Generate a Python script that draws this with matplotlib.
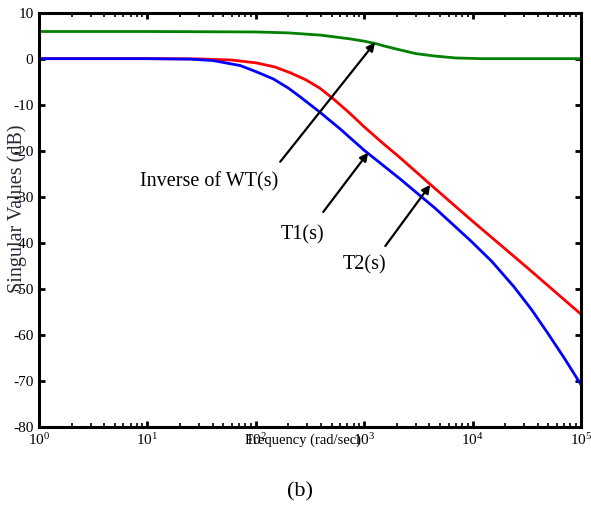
import numpy as np
import matplotlib
matplotlib.use("Agg")
import matplotlib.pyplot as plt

plt.rcParams['font.family'] = ['Liberation Serif', 'DejaVu Serif']
plt.rcParams['mathtext.fontset'] = 'stix'

# values (frequency in rad/sec, singular values in dB)
freq_wt = [1, 10, 100, 200, 400, 740, 1000, 1320, 1500, 2140, 3000, 4370, 7000, 12000, 100000]
inv_wt = [5.9, 5.9, 5.8, 5.6, 5.1, 4.3, 3.8, 3.2, 2.8, 1.9, 1.1, 0.6, 0.15, 0.0, 0.0]

freq_t1 = [1, 10, 30, 60, 100, 150, 210, 290, 390, 530, 740, 1000, 1410, 2140, 4070, 9550, 31600, 100000]
t1 = [0, 0, -0.05, -0.3, -0.9, -1.8, -3.1, -4.6, -6.4, -8.9, -11.9, -14.8, -17.9, -21.5, -27.3, -34.9, -45.3, -55.5]

freq_t2 = [1, 10, 25, 40, 72, 100, 145, 200, 257, 389, 603, 1000, 2140, 4570, 9550,
           15000, 24000, 35000, 49000, 70000, 100000]
t2 = [0, 0, -0.1, -0.4, -1.5, -2.8, -4.4, -6.4, -8.3, -11.6, -15.3, -19.9, -26.1, -32.6, -39.5,
      -44.0, -49.5, -54.5, -59.5, -65.0, -70.8]

yticks = [10, 0, -10, -20, -30, -40, -50, -60, -70, -80]
ytick_labels = ['10', '0', '-10', '-20', '-30', '-40', '-50', '-60', '-70', '-80']

fig = plt.figure(figsize=(5.91, 5.05), dpi=100)
ax = fig.add_axes([0.066, 0.1545, 0.917, 0.8205])

ax.semilogx(freq_wt, inv_wt, color='#008000', lw=2)
ax.semilogx(freq_t1, t1, color='#ff0000', lw=2)
ax.semilogx(freq_t2, t2, color='#0000ff', lw=2)

ax.set_xlim(1, 1e5)
ax.set_ylim(-80, 10)
ax.set_yticks(yticks)
ax.set_yticklabels(ytick_labels)

for s in ax.spines.values():
    s.set_linewidth(2.2)
ax.tick_params(which='major', direction='in', length=4, width=2, labelsize=11,
               top=True, right=True, pad=4)
ax.tick_params(which='minor', direction='in', length=3, width=1.2, top=True)
ax.tick_params(axis='y', which='minor', left=False, right=False)

ax.set_ylabel('Singular Values (dB)', fontsize=14.5, color='#2a2a3a')
ax.yaxis.set_label_coords(-0.022, 0.527)
ax.text(0.487, -0.031, 'Frequency (rad/sec)', transform=ax.transAxes,
        ha='center', va='center', fontsize=10.5)

# annotations
arrow = dict(arrowstyle='-|>', lw=1.6, color='k', mutation_scale=12, shrinkA=0, shrinkB=0)
ax.annotate('', xy=(1260, 3.5), xytext=(168, -22.4), arrowprops=arrow)
ax.annotate('', xy=(1090, -20.4), xytext=(419, -33.3), arrowprops=arrow)
ax.annotate('', xy=(4070, -27.4), xytext=(1567, -40.7), arrowprops=arrow)

ax.text(8.6, -26.7, 'Inverse of WT(s)', ha='left', va='center', fontsize=14.5)
ax.text(168, -38.3, 'T1(s)', ha='left', va='center', fontsize=14.5)
ax.text(629, -44.8, 'T2(s)', ha='left', va='center', fontsize=14.5)

fig.text(300 / 591, 1 - 492 / 505, '(b)', ha='center', va='center', fontsize=16)

fig.savefig('out.png', dpi=100)
